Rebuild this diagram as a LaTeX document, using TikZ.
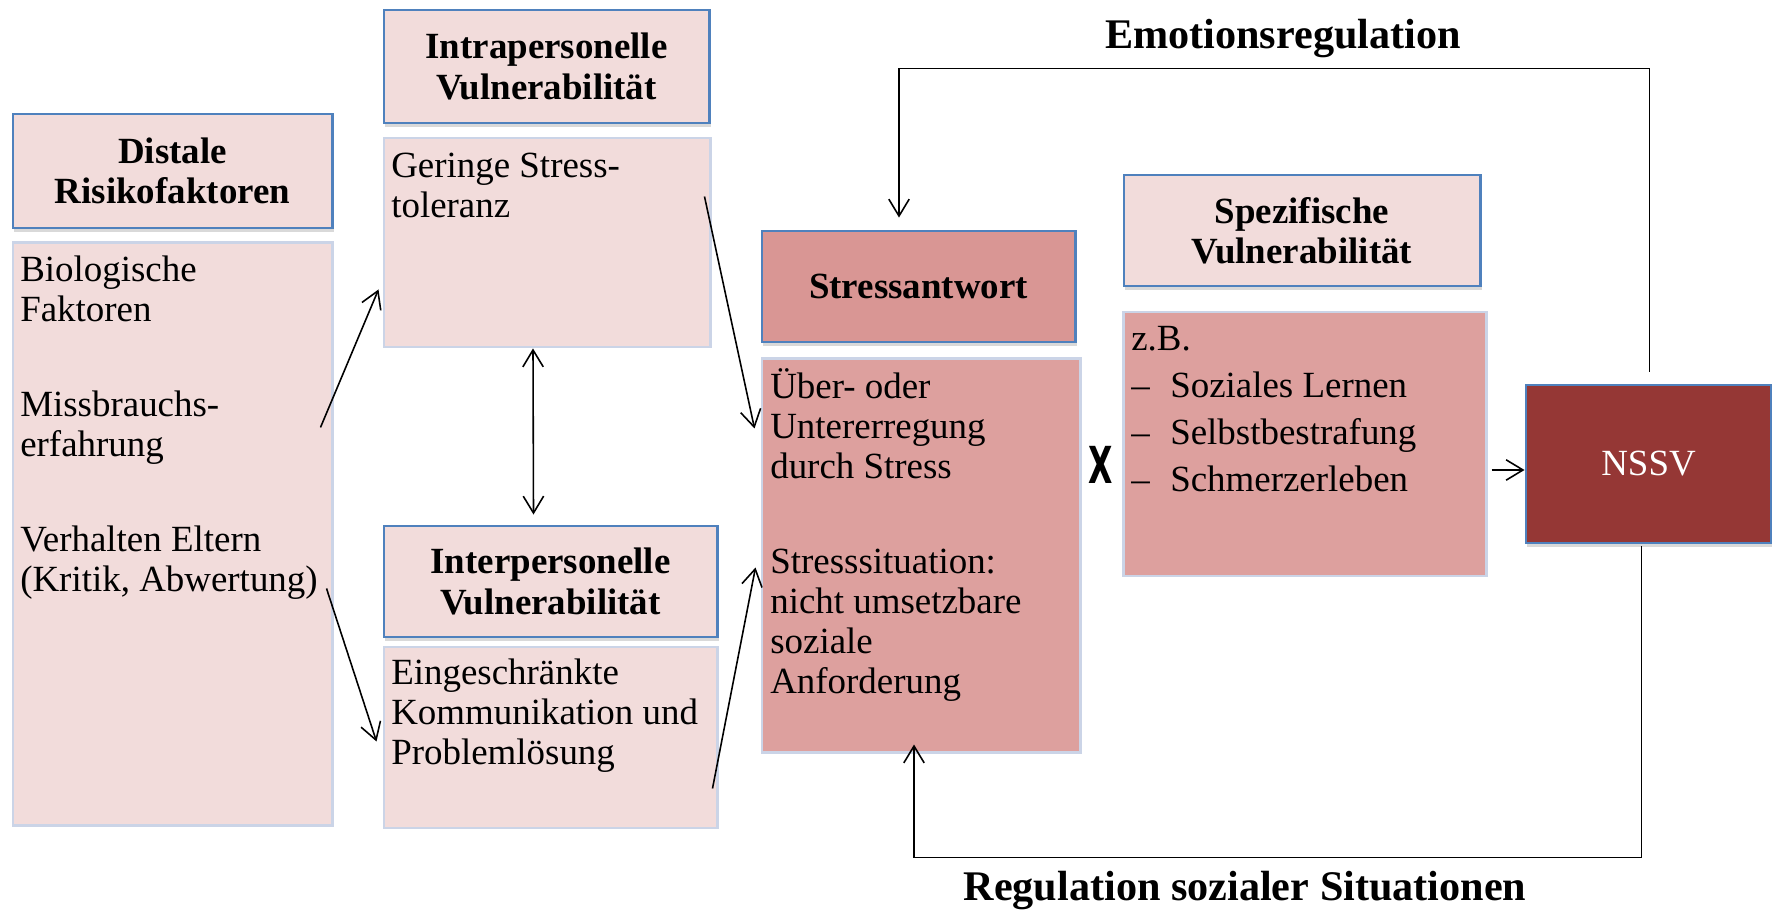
\documentclass[tikz,border=0pt]{standalone}
\usepackage{fontspec}
\setmainfont{Liberation Serif}
\newfontfamily\xfont{DejaVu Sans}
\usetikzlibrary{arrows.meta,shadows,calc}
\definecolor{pinkl}{HTML}{F2DCDB}
\definecolor{pinkm}{HTML}{D99694}
\definecolor{pinkb}{HTML}{DDA09E}
\definecolor{darkred}{HTML}{953735}
\definecolor{hdblue}{HTML}{4F81BD}
\definecolor{bdgray}{HTML}{CBD4E7}
\newcommand\boxfont{\fontsize{10.5pt}{11.4pt}\selectfont}
\newcommand\labfont{\fontsize{12pt}{14pt}\selectfont\bfseries}

\begin{document}
\begin{tikzpicture}[x=0.01cm, y=-0.01cm, >={Straight Barb[length=4.8pt,width=5.8pt]}, line width=0.45pt,
  head/.style={draw=hdblue, line width=0.8pt, fill=pinkl, font=\boxfont\bfseries, align=center, inner sep=0pt,
    drop shadow={shadow xshift=0.4pt, shadow yshift=-1.2pt, opacity=0.3}},
  body/.style={draw=bdgray, line width=0.8pt, fill=pinkl, inner sep=0pt},
  txt/.style={anchor=north west, inner sep=0pt, align=left, font=\boxfont}]
\useasboundingbox (0,0) rectangle (1772,910);

% left column
\node[head, minimum width=3.19cm, minimum height=1.14cm] (disthead) at (172.5,171) {Distale\\Risikofaktoren};
\node[body, minimum width=3.19cm, minimum height=5.82cm] (distbody) at (172.5,534) {};
\node[txt] (disttxt) at ($(distbody.north west)+(8,11)$) {\strut Biologische\\Faktoren\\[0.55cm]Missbrauchs-\\erfahrung\\[0.55cm]Verhalten Eltern\\(Kritik, Abwertung)};

% vulnerabilities
\node[head, minimum width=3.25cm, minimum height=1.13cm] (intrahead) at (546.5,66.5) {Intrapersonelle\\Vulnerabilität};
\node[body, minimum width=3.26cm, minimum height=2.09cm] (intrabody) at (547,242.5) {};
\node[txt] (intratxt) at ($(intrabody.north west)+(8,12)$) {\strut Geringe Stress-\\toleranz};
\node[head, minimum width=3.33cm, minimum height=1.11cm] (interhead) at (550.5,581.5) {Interpersonelle\\Vulnerabilität};
\node[body, minimum width=3.33cm, minimum height=1.81cm] (interbody) at (550.5,737.5) {};
\node[txt] (intertxt) at ($(interbody.north west)+(8,10)$) {\strut Eingeschränkte\\Kommunikation und\\Problemlösung};

% stress response
\node[head, fill=pinkm, minimum width=3.13cm, minimum height=1.11cm] (stresshead) at (918.5,286.5) {Stressantwort};
\node[body, fill=pinkb, minimum width=3.18cm, minimum height=3.93cm] (stressbody) at (921,555.5) {};
\node[txt] (stresstxt) at ($(stressbody.north west)+(9,10)$) {\strut Über- oder\\Untererregung\\durch Stress\\[0.55cm]Stresssituation:\\nicht umsetzbare\\soziale\\Anforderung};

\node (xmark) at (1101,465) {\xfont\bfseries\fontsize{14.5pt}{15pt}\selectfont\scalebox{0.62}[1]{X}};

% specific vulnerability
\node[head, minimum width=3.56cm, minimum height=1.11cm] (spezhead) at (1302,230.5) {Spezifische\\Vulnerabilität};
\node[body, fill=pinkb, minimum width=3.62cm, minimum height=2.64cm] (spezbody) at (1305,444) {};
\node[txt] (speztxt) at ($(spezbody.north west)+(8,11)$) {\strut z.B.\\[0.07cm]\makebox[0.39cm][l]{--}Soziales Lernen\\[0.07cm]\makebox[0.39cm][l]{--}Selbstbestrafung\\[0.07cm]\makebox[0.39cm][l]{--}Schmerzerleben};

\node[head, fill=darkred, text=white, font=\boxfont, minimum width=2.45cm, minimum height=1.58cm] (nssv) at (1648.5,464) {NSSV};

\node[font=\labfont, anchor=base] (emolabel) at (1283,48.5) {Emotionsregulation};
\node[font=\labfont, anchor=base] (reglabel) at (1245,901) {Regulation sozialer Situationen};

% connectors
\draw[->] ($(distbody.north east)+(-13,186)$) -- ($(intrabody.south west)+(-4,-59)$);
\draw[->] ($(distbody.north east)+(-7,347)$) -- ($(interbody.west)+(-6,4)$);
\draw[<->] ($(intrabody.south)+(-14,0)$) -- ($(interhead.north)+(-17,-10)$);
\draw[->] ($(intrabody.north east)+(-7,60)$) -- ($(stressbody.north west)+(-6,71)$);
\draw[->] ($(interbody.south east)+(-6,-41)$) -- ($(stressbody.west)+(-5,12)$);
\draw[->] ($(spezbody.east)+(4,26)$) -- ($(nssv.west)+(0,6)$);
\draw[->] ($(nssv.north)+(1,-12)$) -- ++(0,-303) -| ($(stresshead.north)+(-19.5,-12)$);
\draw[->] ($(nssv.south)+(-7,2)$) -- ++(0,311) -| ($(stressbody.south)+(-7,-9)$);

\end{tikzpicture}
\end{document}
